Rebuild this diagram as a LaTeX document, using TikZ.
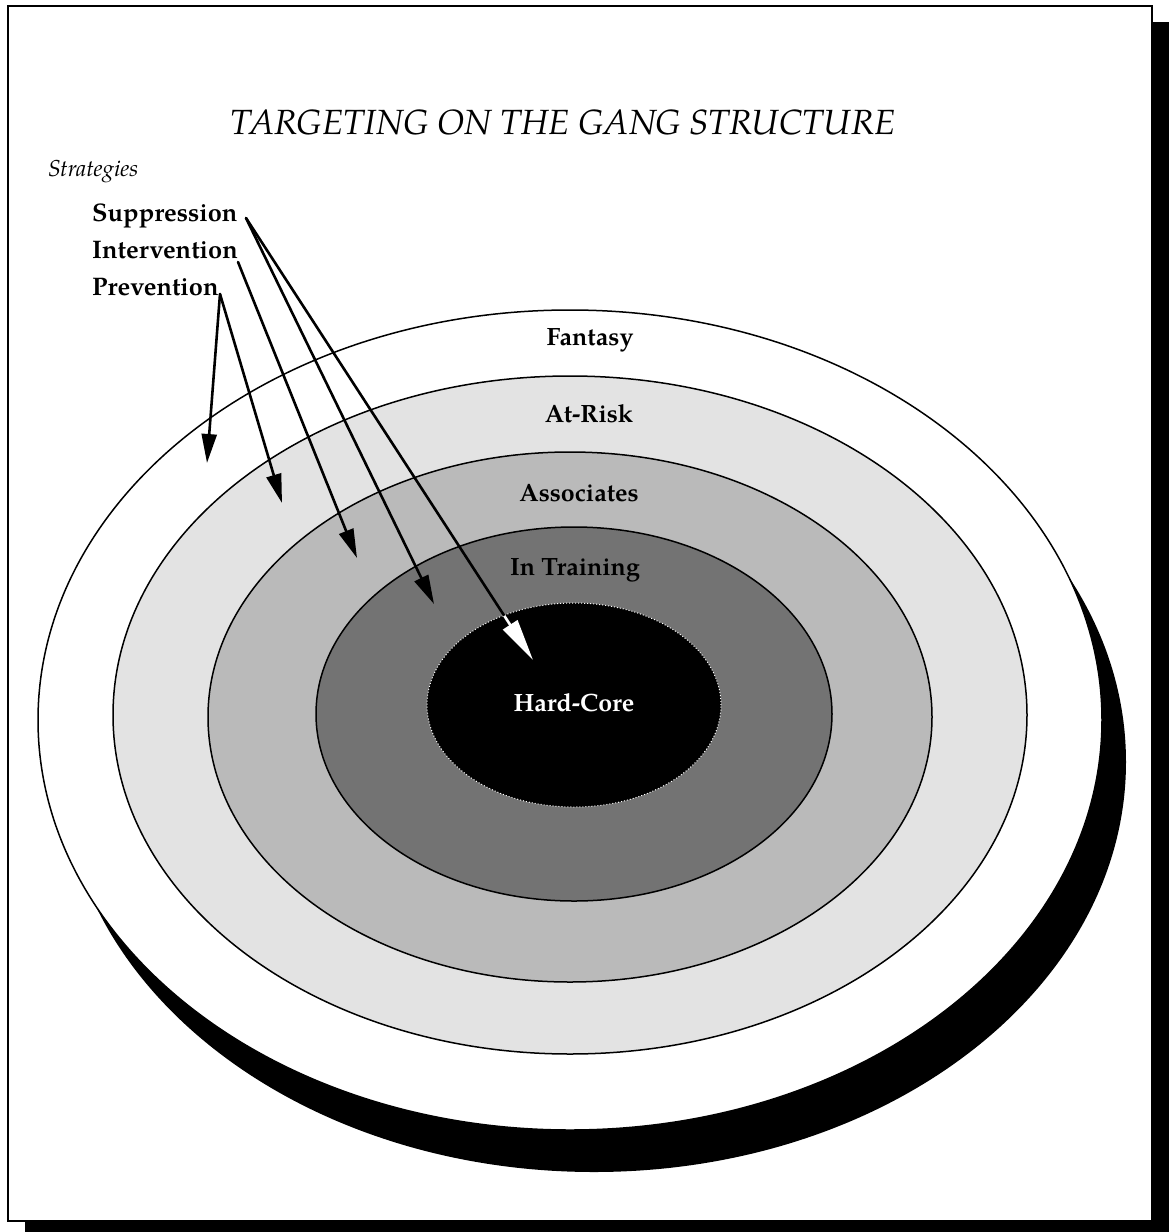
\documentclass[tikz,border=0pt]{standalone}
\usepackage{fontspec}
\setmainfont{TeX Gyre Pagella}
\usetikzlibrary{arrows.meta,calc}
\begin{document}
\begin{tikzpicture}[x=1pt,y=-1pt,
  ring/.style={draw=black,line width=1.5pt},
  lbl/.style={font=\fontsize{25}{28}\selectfont\bfseries, inner sep=0pt},
  strat/.style={font=\fontsize{25.4}{29}\selectfont\bfseries, anchor=base west, inner sep=0pt},
  conn/.style={line width=2.6pt, line cap=round},
  arr/.style={conn, -{Triangle[length=29pt,width=15pt]}},
  warr/.style={line width=2.6pt, draw=white, -{Triangle[length=42pt,width=17pt,fill=white]}},
]
\useasboundingbox (0,0) rectangle (1169,1232);
% page frame with shadow
\fill[black] (25,22) rectangle (1169,1232);
\draw[line width=1.6pt, fill=white] (8,6) rectangle (1152,1221);
% shadow of the target
\fill[black] (594,762) ellipse [x radius=532pt, y radius=410pt];
% rings
\filldraw[ring, fill=white]    (570,720) ellipse [x radius=532pt, y radius=410pt];
\filldraw[ring, fill=black!11] (570,715) ellipse [x radius=457pt, y radius=339pt];
\filldraw[ring, fill=black!27] (570,717) ellipse [x radius=362pt, y radius=265pt];
\filldraw[ring, fill=black!55] (574,714) ellipse [x radius=258pt, y radius=187pt];
\fill[black] (574,705) ellipse [x radius=147pt, y radius=102pt];
\draw[white, dotted, line width=1pt] (574,705) ellipse [x radius=147pt, y radius=102pt];
% texts
\node[font=\fontsize{35}{40}\selectfont\itshape, anchor=base, inner sep=0pt] (title) at (563,134) {TARGETING ON THE GANG STRUCTURE};
\node[font=\fontsize{23}{26}\selectfont\itshape, anchor=base west, inner sep=0pt] (strategies) at (48,176) {Strategies};
\node[strat] (supp) at (92,221) {Suppression};
\node[strat] (interv) at (92,258) {Intervention};
\node[strat] (prev) at (92,295) {Prevention};
\node[lbl] (fantasy) at (590,340) {Fantasy};
\node[lbl] (atrisk) at (589,414) {At-Risk};
\node[lbl] (assoc) at (579,493) {Associates};
\node[lbl] (intrain) at (575,570) {In Training};
\node[lbl, text=white] (hardcore) at (574,703) {Hard-Core};
% connectors
\coordinate (sS) at (246,218);
\coordinate (sI) at (238,262);
\coordinate (sP) at (220,294);
\coordinate (tP1) at (207,463);
\coordinate (tP2) at (282,503);
\coordinate (tI) at (357,558);
\coordinate (tS1) at (434,604);
\coordinate (tS2) at (533,660);
\coordinate (eS2) at ($(sS)!0.9!(tS2)$);
\draw[arr] (sP) -- (tP1);
\draw[arr] (sP) -- (tP2);
\draw[arr] (sI) -- (tI);
\draw[arr] (sS) -- (tS1);
\draw[conn] (sS) -- (eS2);
\draw[warr] (eS2) -- (tS2);
\end{tikzpicture}
\end{document}
